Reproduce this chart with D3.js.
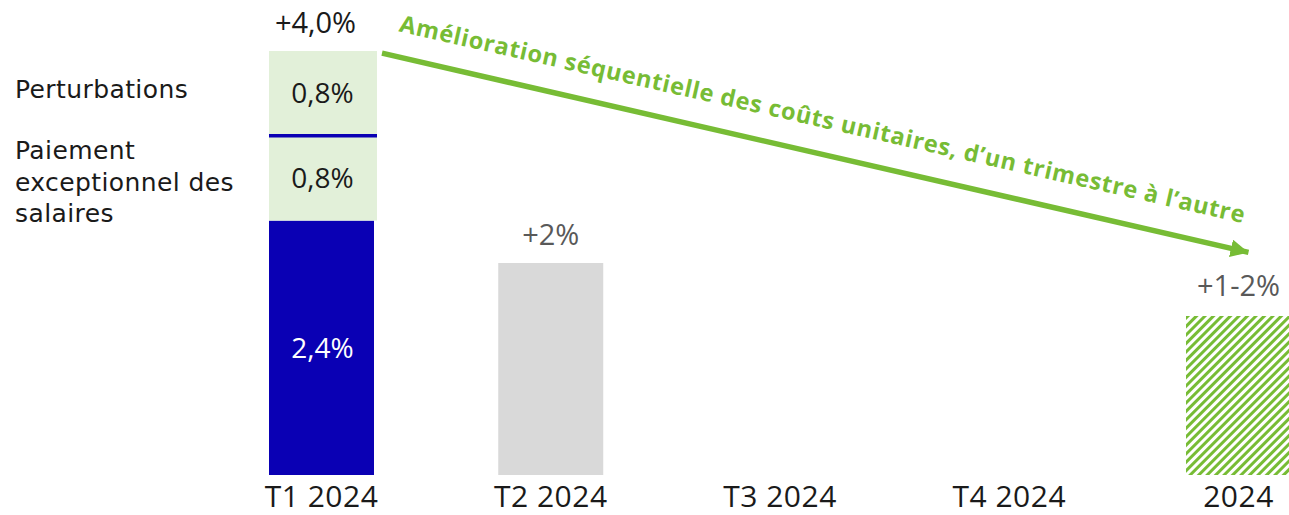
<!DOCTYPE html>
<html>
<head>
<meta charset="utf-8">
<script src="https://cdn.jsdelivr.net/npm/d3@7"></script>
<style>
  body { margin: 0; background: #fff; }
  svg { display: block; font-family: "Open Sans", sans-serif; }
</style>
</head>
<body>
<div id="chart"></div>
<script>
// Data
const categories = ["T1 2024", "T2 2024", "T3 2024", "T4 2024", "2024"];
const totals = [4.0, 2.0, null, null, 1.5];
const totalLabels = ["+4,0%", "+2%", "", "", "+1-2%"];
const t1Segments = [2.4, 0.8, 0.8];
const t1SegmentLabels = ["2,4%", "0,8%", "0,8%"];
const t1SegmentNames = ["", "Paiement exceptionnel des salaires", "Perturbations"];
const arrowText = "Amélioration séquentielle des coûts unitaires, d’un trimestre à l’autre";

const width = 1289, height = 515;
const green = "#77bc35";

const svg = d3.select("#chart")
    .append("svg")
    .attr("width", width)
    .attr("height", height);

const defs = svg.append("defs");

// hatch pattern for the 2024 target bar
const pat = defs.append("pattern")
    .attr("id", "hatch")
    .attr("patternUnits", "userSpaceOnUse")
    .attr("width", 6)
    .attr("height", 6)
    .attr("patternTransform", "rotate(45)");
pat.append("rect").attr("width", 6).attr("height", 6).attr("fill", "#fff");
pat.append("rect").attr("width", 3).attr("height", 6).attr("fill", green);

defs.append("marker")
    .attr("id", "head")
    .attr("markerUnits", "userSpaceOnUse")
    .attr("viewBox", "0 0 18 18")
    .attr("refX", 18)
    .attr("refY", 9)
    .attr("markerWidth", 18)
    .attr("markerHeight", 18)
    .attr("orient", "auto")
    .append("path")
    .attr("d", "M0,0 L18,9 L0,18 Z")
    .attr("fill", green);

// Scales
const x = d3.scaleBand()
    .domain(categories)
    .range([269, 1291])
    .paddingInner(0.542)
    .paddingOuter(0);

const y = d3.scaleLinear()
    .domain([0, 4])
    .range([475, 51]);

// T1 stacked bar
const starts = [0].concat(Array.from(d3.cumsum(t1Segments))).slice(0, t1Segments.length);
const segColors = ["#0a00b4", "#e2f0d9", "#e2f0d9"];
const segText = ["#fff", "#1a1a1a", "#1a1a1a"];

const segs = svg.append("g");
t1Segments.forEach((v, i) => {
    const y0 = y(starts[i]), y1 = y(starts[i] + v);
    segs.append("rect")
        .attr("x", x(categories[0]))
        .attr("y", y1)
        .attr("width", x.bandwidth() + (i > 0 ? 3 : 0))
        .attr("height", y0 - y1)
        .attr("fill", segColors[i]);
    segs.append("text")
        .attr("x", x(categories[0]) + x.bandwidth() / 2 + 1)
        .attr("y", (y0 + y1) / 2)
        .attr("dy", "0.36em")
        .attr("text-anchor", "middle")
        .style("font-size", "28px")
        .attr("fill", segText[i])
        .text(t1SegmentLabels[i]);
});

// separator between the two light segments
svg.append("line")
    .attr("x1", x(categories[0]))
    .attr("x2", x(categories[0]) + x.bandwidth() + 3)
    .attr("y1", y(starts[2]))
    .attr("y2", y(starts[2]))
    .attr("stroke", "#0a00b4")
    .attr("stroke-width", 3.5);

// other bars
const others = categories.map((c, i) => ({ c, v: totals[i], i }))
    .filter(d => d.i > 0 && d.v != null);
svg.selectAll(".bar")
    .data(others)
    .enter()
    .append("rect")
    .attr("class", "bar")
    .attr("x", d => x(d.c))
    .attr("y", d => y(d.v))
    .attr("width", x.bandwidth())
    .attr("height", d => y(0) - y(d.v))
    .attr("fill", d => d.c === "2024" ? "url(#hatch)" : "#d9d9d9");

// totals on top
svg.selectAll(".total")
    .data(categories.map((c, i) => ({ c, v: totals[i], t: totalLabels[i], i })).filter(d => d.v != null))
    .enter()
    .append("text")
    .attr("class", "total")
    .attr("x", d => x(d.c) + x.bandwidth() / 2 + (d.i === 0 ? -6 : 0))
    .attr("y", d => y(d.v) - (d.i === 4 ? 20 : 18))
    .attr("text-anchor", "middle")
    .style("font-size", "29px")
    .attr("fill", d => d.i === 0 ? "#1a1a1a" : "#595959")
    .text(d => d.t);

// left segment names (each line its own text so boxes don't collide)
const names = svg.append("g")
    .style("font-family", "'DejaVu Sans', sans-serif")
    .style("font-size", "25px")
    .style("letter-spacing", "0.4px")
    .attr("fill", "#1a1a1a");
names.append("text")
    .attr("x", 15)
    .attr("y", (y(starts[2]) + y(starts[2] + t1Segments[2])) / 2 - 4)
    .attr("dy", "0.36em")
    .text(t1SegmentNames[2]);
const lines2 = ["Paiement", "exceptionnel des", "salaires"];
const mid1 = (y(starts[1]) + y(starts[1] + t1Segments[1])) / 2;
names.selectAll(".seg-name")
    .data(lines2)
    .enter()
    .append("text")
    .attr("class", "seg-name")
    .attr("x", 15)
    .attr("y", (d, i) => mid1 - 28 + i * 31.5)
    .attr("dy", "0.36em")
    .text(d => d);

// x axis
const xAxis = svg.append("g")
    .attr("transform", `translate(0,${y(0)})`)
    .call(d3.axisBottom(x).tickSize(0).tickPadding(11));
xAxis.select(".domain").remove();
xAxis.selectAll("text")
    .style("font-family", "'Open Sans', sans-serif")
    .style("font-size", "30px")
    .style("letter-spacing", "0.5px")
    .attr("fill", "#1a1a1a");

// annotation arrow
const ax0 = x(categories[0]) + x.bandwidth() + 8, ay0 = y(3.98);
const ax1 = x(categories[4]) + x.bandwidth() / 2 + 10, ay1 = y(2.1);
svg.append("line")
    .attr("x1", ax0).attr("y1", ay0)
    .attr("x2", ax1).attr("y2", ay1)
    .attr("stroke", green)
    .attr("stroke-width", 5.5)
    .attr("marker-end", "url(#head)");

const ang = Math.atan2(ay1 - ay0, ax1 - ax0) * 180 / Math.PI - 0.15;
svg.append("text")
    .attr("transform", `translate(${ax0},${ay0}) rotate(${ang})`)
    .attr("x", 11)
    .attr("y", -25)
    .attr("textLength", 866)
    .attr("lengthAdjust", "spacing")
    .style("font-size", "23.5px")
    .style("font-weight", "bold")
    .attr("fill", green)
    .text(arrowText);
</script>
</body>
</html>
